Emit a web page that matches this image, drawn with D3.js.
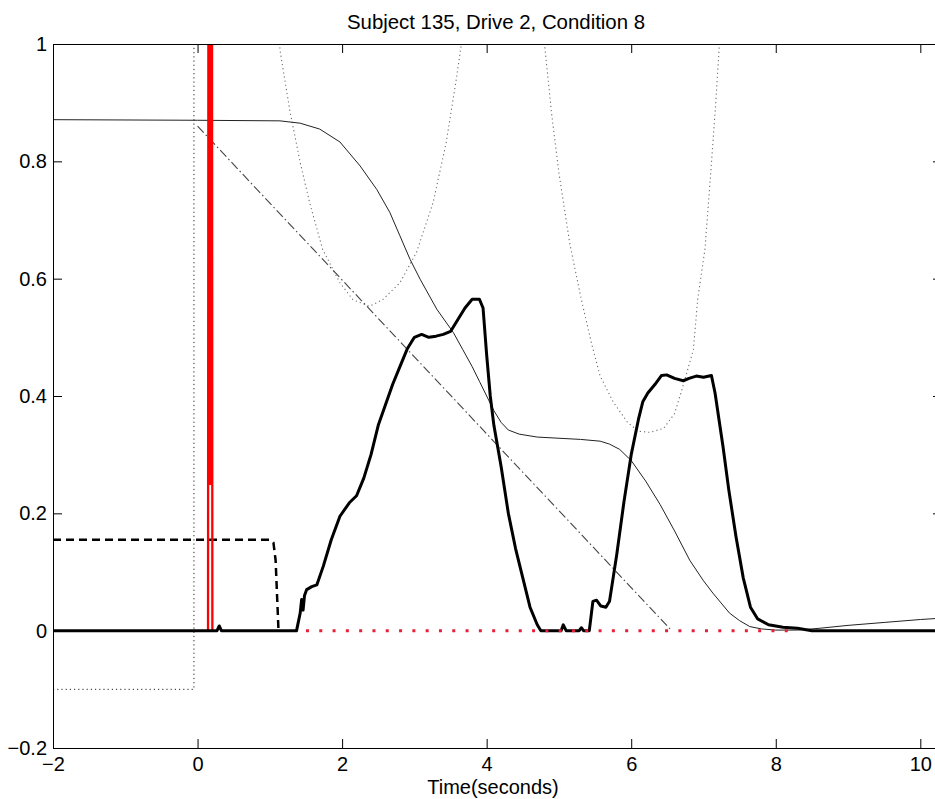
<!DOCTYPE html>
<html>
<head>
<meta charset="utf-8">
<script src="https://cdn.jsdelivr.net/npm/d3@7"></script>
<style>
  body { margin: 0; background: #fff; }
  text { font-family: "Liberation Sans", Arial, sans-serif; fill: #000; }
</style>
</head>
<body>
<svg id="chart" width="935" height="799"></svg>
<script>
// tick labels
const xTicks = [-2, 0, 2, 4, 6, 8, 10];
const yTicks = [-0.2, 0, 0.2, 0.4, 0.6, 0.8, 1];

// thick black trace
const thickTrace = [[-2,0],[0.27,0],[0.3,0.008],[0.33,0],[1.37,0],[1.42,0.03],[1.44,0.053],[1.46,0.035],[1.48,0.06],
  [1.51,0.07],[1.58,0.075],[1.65,0.078],[1.74,0.11],[1.85,0.155],[1.97,0.195],[2.1,0.218],[2.2,0.23],[2.3,0.26],
  [2.4,0.3],[2.5,0.35],[2.6,0.385],[2.7,0.42],[2.8,0.45],[2.9,0.48],[3.0,0.5],[3.1,0.505],[3.2,0.5],[3.3,0.502],
  [3.4,0.505],[3.5,0.51],[3.6,0.53],[3.7,0.55],[3.8,0.565],[3.9,0.565],[3.95,0.55],[4.0,0.47],[4.05,0.4],[4.1,0.35],
  [4.2,0.28],[4.3,0.2],[4.4,0.14],[4.5,0.09],[4.6,0.04],[4.7,0.01],[4.75,0],[5.03,0],[5.06,0.01],[5.1,0],[5.28,0],
  [5.31,0.005],[5.34,0],[5.42,0],[5.45,0.03],[5.47,0.05],[5.52,0.052],[5.58,0.042],[5.65,0.04],[5.7,0.05],[5.75,0.09],
  [5.8,0.13],[5.9,0.22],[6.0,0.3],[6.1,0.36],[6.16,0.39],[6.23,0.405],[6.33,0.42],[6.42,0.435],[6.49,0.436],[6.6,0.43],
  [6.72,0.426],[6.8,0.43],[6.9,0.434],[7.0,0.432],[7.11,0.435],[7.16,0.405],[7.27,0.314],[7.35,0.24],[7.45,0.16],
  [7.55,0.09],[7.65,0.04],[7.75,0.02],[7.9,0.01],[8.1,0.006],[8.3,0.004],[8.5,0],[10.5,0]];

// thin solid trace
const thinTrace = [[-2,0.871],[0,0.87],[1.14,0.869],[1.42,0.865],[1.69,0.855],[1.97,0.833],[2.25,0.792],[2.48,0.752],
  [2.66,0.713],[2.8,0.673],[2.94,0.633],[3.08,0.599],[3.31,0.548],[3.54,0.508],[3.67,0.479],[3.8,0.45],[3.9,0.425],
  [4.0,0.4],[4.1,0.375],[4.2,0.355],[4.3,0.342],[4.45,0.335],[4.7,0.33],[5.0,0.328],[5.3,0.326],[5.57,0.323],
  [5.7,0.318],[5.84,0.309],[6.0,0.29],[6.2,0.255],[6.4,0.215],[6.6,0.17],[6.81,0.12],[7.0,0.085],[7.13,0.064],
  [7.36,0.03],[7.5,0.017],[7.64,0.007],[7.8,0.003],[8.0,0.001],[8.3,0.001],[8.6,0.004],[9.0,0.009],[9.5,0.014],
  [10.0,0.019],[10.5,0.023]];

// dash-dot ramp
const rampTrace = [[0,0.86],[6.56,0]];

// thick dashed step
const stepTrace = [[-2,0.155],[1.0,0.155],[1.05,0.15],[1.08,0.12],[1.1,0.06],[1.12,0]];

// dotted boundary curves
const boundLeft = [[1.1,1.08],[1.14,0.99],[1.28,0.884],[1.42,0.798],[1.55,0.73],[1.73,0.65],[1.97,0.593],[2.15,0.564],
  [2.38,0.553],[2.56,0.564],[2.8,0.593],[3.03,0.645],[3.26,0.73],[3.44,0.832],[3.58,0.94],[3.65,1.0],[3.7,1.08]];
const boundRight = [[4.75,1.08],[4.8,1.0],[4.9,0.88],[5.0,0.78],[5.15,0.66],[5.3,0.57],[5.45,0.49],[5.57,0.434],
  [5.75,0.39],[5.95,0.355],[6.1,0.34],[6.26,0.338],[6.45,0.345],[6.6,0.37],[6.7,0.41],[6.77,0.44],[6.86,0.479],
  [6.92,0.565],[7.02,0.65],[7.1,0.78],[7.17,0.9],[7.22,1.0],[7.25,1.08]];
const boundStep = [[-2,-0.1],[-0.05,-0.1],[-0.05,1.08]];

// red traces
const redSpikes = [[0.145,0],[0.15,1.1],[0.17,1.1],[0.175,0.25],[0.18,1.1],[0.2,1.1],[0.205,0]];
const redDotted = [[1.5,0],[8.3,0]];

const margin = {top: 44, left: 53, bottom: 51, right: -7};
const width = 935, height = 799;
const svg = d3.select("#chart");

const x = d3.scaleLinear().domain([-2, 10.3]).range([margin.left, width - margin.right]);
const y = d3.scaleLinear().domain([-0.2, 1]).range([height - margin.bottom, margin.top]);

svg.append("defs").append("clipPath").attr("id", "plotClip")
  .append("rect")
  .attr("x", x(-2)).attr("y", y(1))
  .attr("width", x(10.3) - x(-2)).attr("height", y(-0.2) - y(1));

const plot = svg.append("g").attr("clip-path", "url(#plotClip)");
const line = d3.line().x(d => x(d[0])).y(d => y(d[1]));

function addLine(data, color, w, dash) {
  plot.append("path")
    .datum(data)
    .attr("fill", "none")
    .attr("stroke", color)
    .attr("stroke-width", w)
    .attr("stroke-dasharray", dash)
    .attr("stroke-linejoin", "round")
    .attr("d", line);
}

addLine(boundLeft, "#6e6e6e", 1.1, "1.2,3");
addLine(boundRight, "#6e6e6e", 1.1, "1.2,3");
addLine(boundStep, "#222", 1, "1.2,3");
addLine(rampTrace, "#444", 1.1, "9,3,1.5,3");
addLine(thinTrace, "#222", 1, null);
addLine(stepTrace, "#000", 2.5, "8,5");
addLine(redSpikes, "#ff0000", 2.3, null);
addLine(thickTrace, "#000", 3, null);
addLine(redDotted, "#e8203a", 3, "3,10.3");

// axes box (MATLAB style, ticks inside)
const axes = svg.append("g");
axes.append("g")
  .attr("transform", `translate(0,${y(-0.2)})`)
  .call(d3.axisBottom(x).tickValues(xTicks).tickSizeInner(-9).tickSizeOuter(0).tickPadding(9))
  .call(g => g.select(".domain").attr("stroke", "#000"));
axes.append("g")
  .attr("transform", `translate(0,${y(1)})`)
  .call(d3.axisTop(x).tickValues(xTicks).tickSizeInner(-9).tickSizeOuter(0).tickFormat(""));
axes.append("g")
  .attr("transform", `translate(${x(-2)},0)`)
  .call(d3.axisLeft(y).tickValues(yTicks).tickSizeInner(-9).tickSizeOuter(0).tickPadding(6).tickFormat(d3.format("")));
axes.append("g")
  .attr("transform", `translate(${x(10.3)},0)`)
  .call(d3.axisRight(y).tickValues(yTicks).tickSizeInner(-9).tickSizeOuter(0).tickFormat(""));

axes.selectAll(".tick text")
  .style("font-family", "'Liberation Sans', Arial, sans-serif")
  .style("font-size", "20px")
  .attr("fill", "#000");
axes.selectAll(".tick line").attr("stroke", "#000");

svg.append("text")
  .attr("x", 496).attr("y", 29)
  .attr("text-anchor", "middle")
  .style("font-size", "20.4px")
  .text("Subject 135, Drive 2, Condition 8");

svg.append("text")
  .attr("x", 493).attr("y", 794)
  .attr("text-anchor", "middle")
  .style("font-size", "20px")
  .text("Time(seconds)");
</script>
</body>
</html>
